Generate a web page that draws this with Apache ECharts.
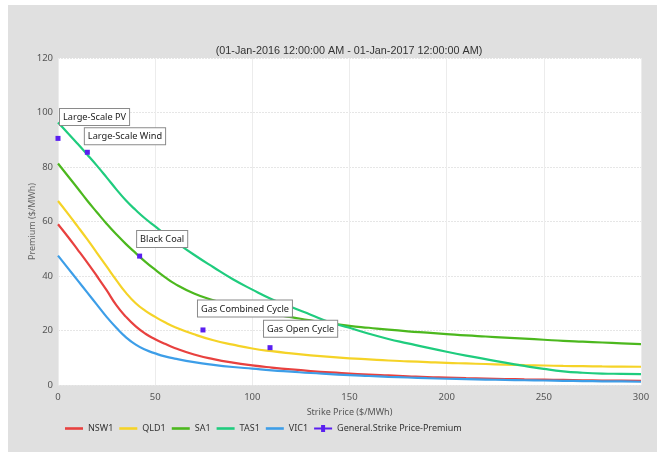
<!DOCTYPE html>
<html>
<head>
<meta charset="utf-8">
<script src="https://cdn.jsdelivr.net/npm/echarts@6/dist/echarts.min.js"></script>
<style>
html,body{margin:0;padding:0;background:#fff;}
#c{position:absolute;left:8px;top:5px;width:649px;height:447px;background:#e0e0e0;}
</style>
</head>
<body>
<div id="c"></div>
<script>
// ---- data ----
var strikePrices = [0,5,10,15,20,25,30,35,40,45,50,55,60,70,80,90,100,110,120,130,140,150,160,170,180,190,200,210,220,230,240,250,260,270,280,290,300];
var NSW1 = [59,54.5,49.8,45,40,34.8,29.3,25,21.5,18.8,16.8,15.1,13.6,11.2,9.5,8.2,7.2,6.4,5.7,5.1,4.6,4.2,3.8,3.5,3.2,2.9,2.7,2.5,2.35,2.2,2.05,1.95,1.85,1.75,1.65,1.6,1.5];
var QLD1 = [67.5,63,58.3,53.5,48.5,43.5,38.5,33.8,30,27.2,25,23,21.3,18.6,16.4,14.8,13.4,12.4,11.6,10.9,10.3,9.8,9.4,9.0,8.7,8.4,8.1,7.9,7.7,7.5,7.3,7.15,7.0,6.9,6.8,6.75,6.7];
var SA1  = [81.3,76.8,72.3,67.7,63.4,59.2,55.3,51.7,48.4,45.2,42.3,39.6,37.2,33.6,31.1,29.1,27.5,26.1,24.9,23.7,22.6,21.7,21.0,20.3,19.7,19.2,18.7,18.2,17.8,17.4,17.0,16.6,16.2,15.9,15.6,15.3,15.0];
var TAS1 = [96.3,92.5,88.6,84.6,80.5,76.2,71.8,67.7,64.2,61.0,58.2,55.4,52.8,47.8,43.2,38.8,35.0,31.5,28.6,25.8,23.0,21.0,18.8,16.9,15.3,13.7,12.2,10.8,9.5,8.2,7.0,5.9,5.0,4.5,4.2,4.1,4.0];
var VIC1 = [47.5,43,38.5,34,29.5,25,21,17.5,14.8,12.9,11.6,10.5,9.7,8.4,7.4,6.6,6.0,5.4,4.9,4.4,4.0,3.6,3.3,3.0,2.75,2.5,2.3,2.15,2.0,1.85,1.75,1.65,1.55,1.45,1.35,1.3,1.2];
var techNames  = ['Large-Scale PV','Large-Scale Wind','Black Coal','Gas Combined Cycle','Gas Open Cycle'];
var techStrike = [0,15.1,42,74.6,109.1];
var techPremium = [90.5,85.4,47.3,20.2,13.7];
var xTicks = [0,50,100,150,200,250,300];
var yTicks = [0,20,40,60,80,100,120];
var titleText = '(01-Jan-2016 12:00:00 AM - 01-Jan-2017 12:00:00 AM)';

// ---- layout / style ----
var labelPos = [[4.5,-27],[0,-21.5],[0,-22.5],[-2.5,-27],[-3.5,-24.5]];
var FONT = 'Noto Sans';
var regionNames = ['NSW1','QLD1','SA1','TAS1','VIC1'];
var regionData = [NSW1,QLD1,SA1,TAS1,VIC1];
var colors = ['#e8413f','#f5d327','#4cb81e','#1fcc7e','#3d9ee8'];
var purple = '#5a1ff0';
var lineIcon = 'path://M0,0 L18,0 L18,2.6 L0,2.6 Z';
var markIcon = 'path://M0,3 L7,3 L7,0.5 L11,0.5 L11,3 L18,3 L18,5 L11,5 L11,7.5 L7,7.5 L7,5 L0,5 Z';

function pairs(ys){ return strikePrices.map(function(x,i){return [x, ys[i]];}); }

var series = regionNames.map(function(n,i){
  return {name:n,type:'line',smooth:0.5,showSymbol:false,symbol:'none',
    data:pairs(regionData[i]),
    lineStyle:{width:2.2,color:colors[i]},itemStyle:{color:colors[i]},z:2};
});
series.push({
  name:'General.Strike Price-Premium',type:'line',symbol:'rect',symbolSize:5,showSymbol:true,
  lineStyle:{width:2,color:purple,opacity:0},itemStyle:{color:purple},z:5,
  data:techNames.map(function(n,i){
    return {name:n,value:[techStrike[i],techPremium[i]],
      label:{position:labelPos[i]}};
  }),
  label:{show:true,formatter:'{b}',color:'#222',fontFamily:FONT,fontSize:9.2,
    backgroundColor:'#fff',borderColor:'#8a8a8a',borderWidth:1,padding:[4,3,3,3]}
});

var chart = echarts.init(document.getElementById('c'),null,{renderer:'canvas'});
chart.setOption({
  animation:false,
  backgroundColor:'#e0e0e0',
  title:{text:titleText,left:336,top:36,textAlign:'center',
    textStyle:{fontFamily:'Liberation Sans',fontSize:10.8,fontWeight:'normal',color:'#333'}},
  grid:{left:50,top:53,right:16,bottom:67,show:true,backgroundColor:'#fff',borderWidth:0},
  legend:{left:52,top:414,itemWidth:18,itemHeight:10,itemGap:6,symbolKeepAspect:true,
    textStyle:{fontFamily:FONT,fontSize:9,color:'#333'},
    data:regionNames.map(function(n,i){return {name:n,icon:lineIcon,itemStyle:{color:colors[i]}};}).concat([
      {name:'General.Strike Price-Premium',icon:markIcon,itemStyle:{color:purple}}])},
  xAxis:{type:'value',min:xTicks[0],max:xTicks[xTicks.length-1],interval:50,
    name:'Strike Price ($/MWh)',nameLocation:'middle',nameGap:23,nameMoveOverlap:false,
    nameTextStyle:{fontFamily:FONT,fontSize:9,color:'#555'},
    axisLine:{show:false},axisTick:{show:false},
    axisLabel:{fontFamily:FONT,fontSize:9.5,color:'#555',margin:7},
    splitLine:{show:true,lineStyle:{color:'#ececec',width:1}}},
  yAxis:{type:'value',min:yTicks[0],max:yTicks[yTicks.length-1],interval:20,
    name:'Premium ($/MWh)',nameLocation:'middle',nameGap:21,nameMoveOverlap:false,
    nameTextStyle:{fontFamily:FONT,fontSize:9,color:'#666'},
    axisLine:{show:false},axisTick:{show:false},
    axisLabel:{fontFamily:FONT,fontSize:9.5,color:'#555',margin:5},
    splitLine:{show:true,lineStyle:{color:'#e6e6e6',width:1,type:[2,1]}}},
  series:series
});
</script>
</body>
</html>
